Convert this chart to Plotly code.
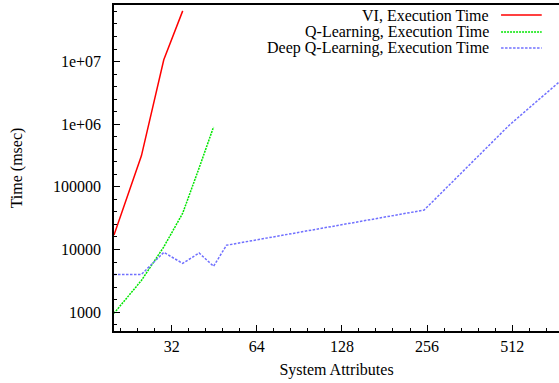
import math
import plotly.graph_objects as go

# ---- data ----
vi_x = [20, 25, 30, 35]
vi_y = [17000, 313000, 10700000, 64500000]

ql_x = [20, 25, 30, 35, 40, 45]
ql_y = [960, 3200, 11000, 38000, 200000, 906000]

dql_x = [20, 25, 30, 35, 40, 45, 50, 250, 500, 750]
dql_y = [4000, 4000, 9000, 6000, 8800, 5400, 11700, 42600, 964000, 4700000]

x_ticks = [32, 64, 128, 256, 512]
y_ticks = [1000, 10000, 100000, 1000000, 10000000]
y_tick_text = ["1000", "10000", "100000", "1e+06", "1e+07"]

series_names = ["VI, Execution Time", "Q-Learning, Execution Time", "Deep Q-Learning, Execution Time"]
colors = ["#ff0000", "#00e600", "#7070ff"]
dashes = ["solid", "2px,1px", "2.5px,1.5px"]

FONT = "Liberation Serif, Times New Roman, DejaVu Serif, serif"
FS = 16

fig = go.Figure()
for xs, ys, name, c, d in zip([vi_x, ql_x, dql_x], [vi_y, ql_y, dql_y], series_names, colors, dashes):
    fig.add_trace(go.Scatter(x=xs, y=ys, mode="lines", name=name,
                             line=dict(color=c, width=1.5, dash=d), showlegend=False))

x_min, x_max = 20, 750
y_min, y_max = 500, 8.0e7

x_minor = [2 ** (k + j / 5) for k in range(4, 10) for j in range(1, 5)]
y_minor = [10 ** (k + j / 5) for k in range(2, 8) for j in range(1, 5)]

fig.update_layout(
    width=559, height=383,
    margin=dict(l=113.5, r=0, t=5, b=52.3, autoexpand=False),
    paper_bgcolor="white", plot_bgcolor="white",
    font=dict(family=FONT, size=FS, color="black"),
    xaxis=dict(type="log", range=[math.log10(x_min), math.log10(x_max)], automargin=False,
               tickvals=x_ticks, ticktext=[str(v) for v in x_ticks],
               ticks="inside", ticklen=6, tickcolor="black",
               showline=True, linecolor="black", linewidth=1.5, mirror=True,
               showgrid=False, zeroline=False, ticklabelstandoff=0,
               tickfont=dict(family=FONT, size=FS),
               minor=dict(tickvals=x_minor, ticks="inside", ticklen=3, tickcolor="black", showgrid=False),
               title=dict(text="System Attributes", font=dict(family=FONT, size=FS), standoff=10)),
    yaxis=dict(type="log", range=[math.log10(y_min), math.log10(y_max)], automargin=False,
               tickvals=y_ticks, ticktext=y_tick_text,
               ticks="inside", ticklen=6, tickcolor="black",
               showline=True, linecolor="black", linewidth=1.5, mirror=False,
               showgrid=False, zeroline=False, ticklabelstandoff=8,
               tickfont=dict(family=FONT, size=FS),
               minor=dict(tickvals=y_minor, ticks="inside", ticklen=3, tickcolor="black", showgrid=False),
               title=dict(text="Time (msec)", font=dict(family=FONT, size=FS), standoff=26)),
)

# custom gnuplot-style legend (text right-aligned, sample on right)
leg_y = [0.9693, 0.9171, 0.8680]
for name, c, d, yy in zip(series_names, colors, dashes, leg_y):
    fig.add_annotation(x=0.8467, y=yy, xref="paper", yref="paper", text=name,
                       showarrow=False, xanchor="right", yanchor="middle",
                       font=dict(family=FONT, size=FS, color="black"))
    fig.add_shape(type="line", xref="paper", yref="paper", x0=0.8698, x1=0.9612, y0=yy, y1=yy,
                  line=dict(color=c, width=1.5, dash=d))

fig.write_html("out.html", config={"displayModeBar": False},
               post_script="document.body.style.margin='0';document.body.style.padding='0';document.body.style.overflow='hidden';")
